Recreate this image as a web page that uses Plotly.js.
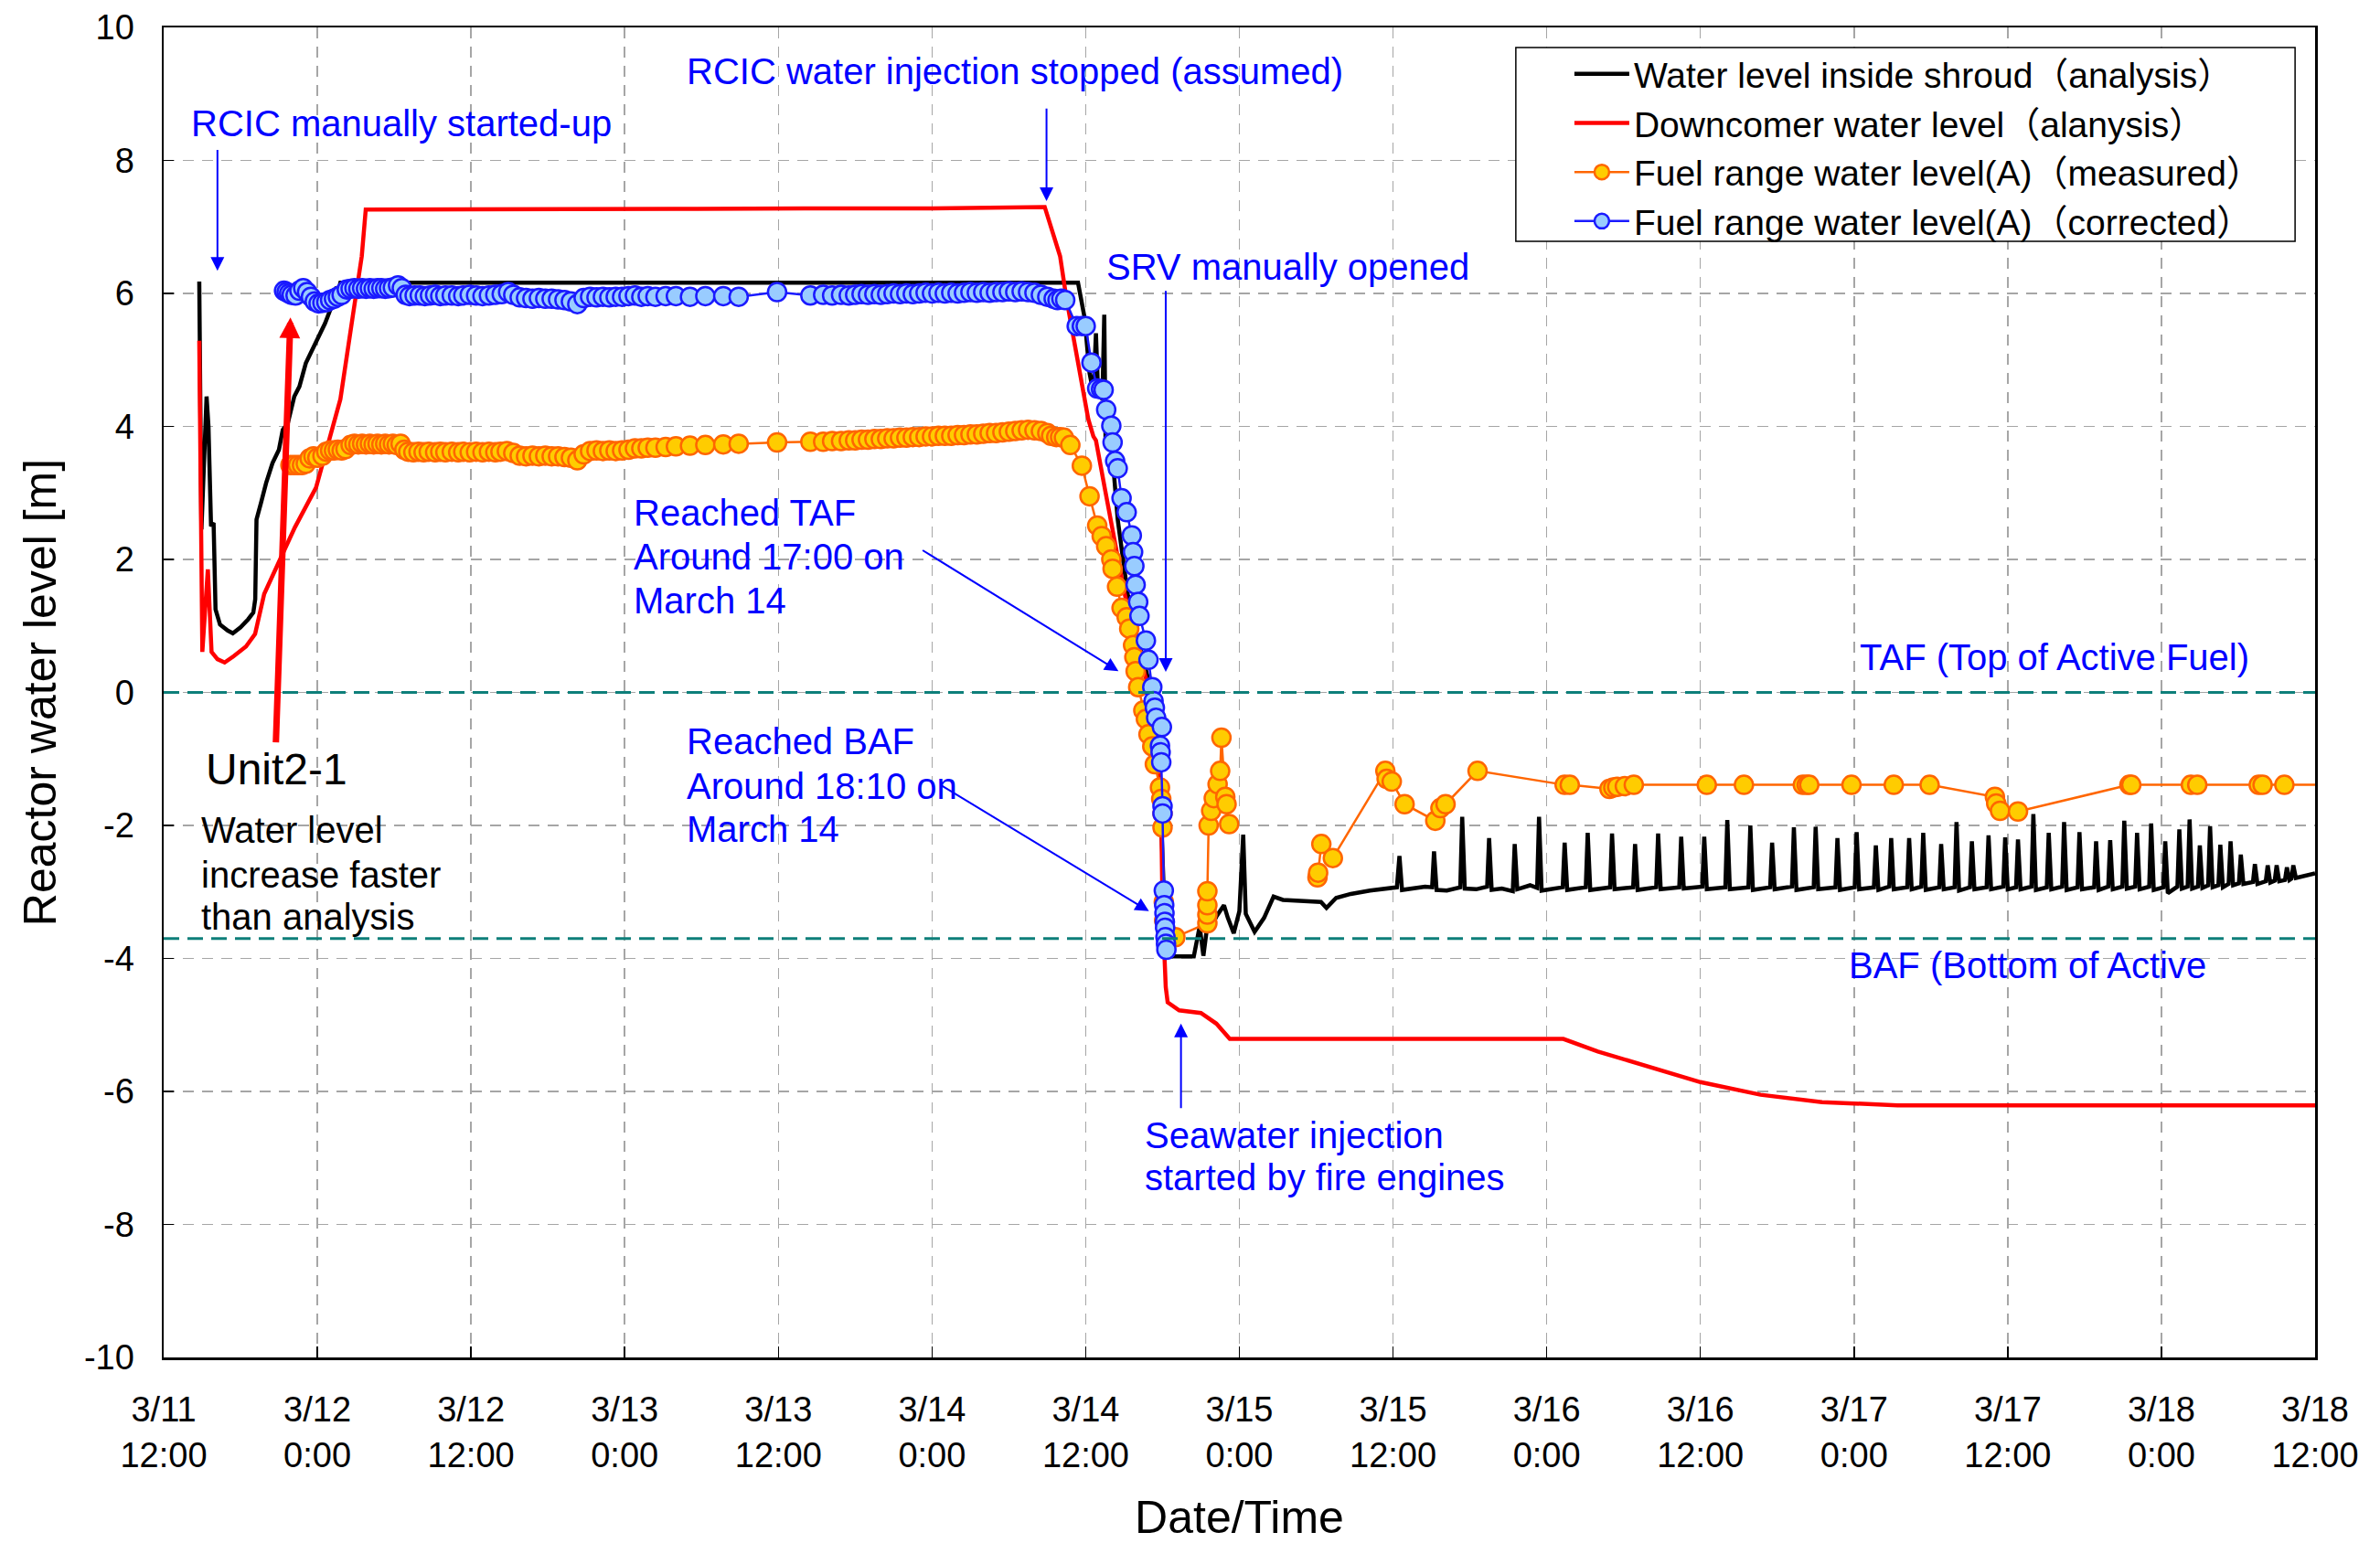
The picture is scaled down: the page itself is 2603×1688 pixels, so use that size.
<!DOCTYPE html>
<html>
<head>
<meta charset="utf-8">
<script src="https://cdn.plot.ly/plotly-3.0.1.min.js"></script>
<style>html,body{margin:0;padding:0;background:#fff;}#chart{width:2603px;height:1688px;}</style>
</head>
<body>
<div id="chart"></div>
<script>
// ---- Data (x = hours after 3/11 12:00) ----
const tickHours = [0,12,24,36,48,60,72,84,96,108,120,132,144,156,168];
const tickLabels = ['3/11<br>12:00','3/12<br>0:00','3/12<br>12:00','3/13<br>0:00','3/13<br>12:00','3/14<br>0:00','3/14<br>12:00','3/15<br>0:00','3/15<br>12:00','3/16<br>0:00','3/16<br>12:00','3/17<br>0:00','3/17<br>12:00','3/18<br>0:00','3/18<br>12:00'];
const yTicks = [-10,-8,-6,-4,-2,0,2,4,6,8,10];
const yTickLabels = ['-10','-8','-6','-4','-2','0','2','4','6','8','10'];
const refLevels = [0, -3.7];

const seriesNames = ['Water level inside shroud（analysis）','Downcomer water level（alanysis）','Fuel range water level(A)（measured）','Fuel range water level(A)（corrected）'];

// Water level inside shroud (analysis)
const shroudT = [2.78,2.95,3.1,3.35,3.5,3.7,3.9,4.05,4.4,5.0,5.4,6.0,6.6,7.0,7.15,7.25,7.6,8.0,8.5,9.0,9.3,9.7,10.2,10.6,11.1,11.6,12.1,12.6,13.1,13.5,13.6,13.8,71.4,71.9,72.3,72.6,72.8,72.95,73.3,73.45,73.55,73.8,74.1,74.2,74.5,74.9,75.3,75.9,76.5,77.0,77.4,77.7,77.9,78.1,78.2,80.44,80.9,81.19,81.5,81.93,82.2,82.8,83.1,83.56,84.0,84.3,84.5,85.19,85.93,86.67,87.4,89.0,90.37,90.8,91.56,92.7,94.2,96.3,96.5,96.7,97.5,98.5,99.05,99.2,99.4,100.2,101.25,101.4,101.6,102.5,103.35,103.5,103.7,104.5,105.35,105.5,105.7,106.7,107.25,107.4,107.6,108.5,109.25,109.4,109.6,111.05,111.2,111.4,112.95,113.1,113.3,114.75,114.9,115.1,116.55,116.7,116.9,118.35,118.5,118.7,120.15,120.3,120.5,121.95,122.1,122.3,123.75,123.9,124.1,125.45,125.6,125.8,127.15,127.3,127.5,128.85,129.0,129.2,130.55,130.7,130.9,132.05,132.2,132.4,133.55,133.7,133.9,134.75,134.9,135.1,136.15,136.3,136.5,137.25,137.4,137.6,138.65,138.8,139.0,139.85,140.0,140.2,141.05,141.2,141.4,142.35,142.5,142.7,143.65,143.8,144.0,144.65,144.8,145.0,145.85,146.0,146.2,147.05,147.2,147.4,148.25,148.4,148.6,149.45,149.6,149.8,150.75,150.9,151.1,151.85,152.0,152.2,152.95,153.1,153.3,153.95,154.1,154.3,155.05,155.2,155.4,156.15,156.3,156.5,157.25,157.4,157.6,158.05,158.2,158.4,158.85,159.0,159.2,159.65,159.8,160.0,160.45,160.6,160.8,161.25,161.4,161.6,162.05,162.2,162.4,163.15,163.3,163.5,164.15,164.3,164.5,164.85,165.0,165.2,165.65,165.8,166.0,166.15,166.3,166.5,167.3,168.0];
const shroudV = [6.18,2.45,3.2,4.45,4.0,2.5,2.55,1.25,1.02,0.93,0.89,0.98,1.1,1.2,1.4,2.6,2.85,3.15,3.45,3.65,3.95,4.05,4.45,4.6,4.95,5.15,5.35,5.55,5.8,6.1,6.0,6.16,6.16,5.65,4.8,4.5,5.4,4.6,4.4,5.68,3.8,4.2,4.0,3.3,2.6,2.0,1.45,0.9,0.5,0.1,-0.4,-0.9,-1.85,-3.0,-3.97,-3.97,-3.52,-3.96,-3.5,-3.48,-3.37,-3.2,-3.39,-3.62,-3.29,-2.14,-3.33,-3.6,-3.39,-3.07,-3.12,-3.13,-3.15,-3.24,-3.09,-3.03,-2.98,-2.93,-2.46,-2.97,-2.95,-2.92,-2.93,-2.39,-2.97,-2.98,-2.93,-1.87,-2.95,-2.96,-2.92,-2.19,-2.97,-2.95,-2.99,-2.28,-2.96,-2.9,-2.94,-1.87,-2.98,-2.95,-2.93,-2.26,-2.97,-2.93,-2.11,-2.97,-2.93,-2.12,-2.96,-2.93,-2.28,-2.97,-2.93,-2.12,-2.96,-2.93,-2.17,-2.95,-2.92,-2.17,-2.96,-2.93,-1.92,-2.96,-2.93,-2.0,-2.97,-2.93,-2.26,-2.96,-2.92,-2.03,-2.97,-2.93,-2.02,-2.96,-2.93,-2.19,-2.97,-2.93,-2.1,-2.96,-2.93,-2.3,-2.97,-2.92,-2.19,-2.96,-2.93,-2.19,-2.96,-2.92,-2.11,-2.97,-2.93,-2.28,-2.96,-2.93,-1.95,-2.98,-2.93,-2.24,-2.96,-2.93,-2.15,-2.96,-2.92,-2.18,-2.96,-2.93,-2.21,-2.96,-2.92,-1.83,-2.97,-2.93,-2.11,-2.96,-2.92,-1.95,-2.97,-2.93,-2.1,-2.96,-2.93,-2.24,-2.97,-2.92,-2.22,-2.96,-2.92,-1.93,-2.95,-2.92,-2.11,-2.96,-2.92,-1.97,-2.97,-2.93,-2.24,-3.02,-2.92,-2.06,-2.95,-2.92,-1.91,-2.95,-2.92,-2.3,-2.94,-2.9,-2.01,-2.93,-2.9,-2.29,-2.93,-2.88,-2.24,-2.9,-2.87,-2.44,-2.88,-2.85,-2.58,-2.88,-2.84,-2.6,-2.86,-2.83,-2.6,-2.84,-2.82,-2.63,-2.82,-2.8,-2.6,-2.79,-2.75,-2.72];

// Downcomer water level (analysis)
const downT = [2.78,3.02,3.45,3.74,4.2,4.76,5.5,6.43,7.14,7.5,7.85,9.04,10.24,11.9,12.85,13.8,14.76,15.47,15.78,30,40,50,60,68.8,69.33,70.0,70.5,71.7,72.2,72.6,72.8,73.5,75.0,76.2,77.2,77.7,77.9,78.0,78.25,78.4,79.3,81.0,82.2,83.25,109.3,112.0,115.3,120.0,124.7,129.5,135.4,168];
const downV = [5.29,0.61,1.85,0.61,0.5,0.45,0.55,0.69,0.88,1.2,1.48,1.98,2.48,3.08,3.72,4.41,5.65,6.56,7.26,7.26,7.27,7.28,7.28,7.3,6.98,6.56,5.92,4.67,4.11,3.85,3.79,3.06,1.52,0.53,-0.1,-0.8,-1.85,-3.25,-4.43,-4.66,-4.78,-4.82,-4.98,-5.21,-5.21,-5.4,-5.59,-5.86,-6.05,-6.16,-6.21,-6.21];

// Fuel range water level (A) measured
const measT = [9.9,10.2,10.5,10.8,11.1,11.4,11.7,12.0,12.4,12.7,13.0,13.3,13.6,13.9,14.2,14.6,14.9,15.2,15.5,15.8,16.1,16.4,16.7,17.0,17.3,17.6,17.9,18.2,18.5,18.8,19.1,19.5,19.9,20.3,20.7,21.2,21.6,22.0,22.5,23.0,23.4,23.9,24.4,24.9,25.4,25.9,26.3,26.8,27.3,27.8,28.3,28.8,29.3,29.8,30.3,30.8,31.3,31.8,32.3,32.8,33.3,33.8,34.3,34.8,35.3,35.8,36.3,36.8,37.3,37.8,38.4,39.2,40.0,41.1,42.3,43.7,44.9,47.9,50.5,51.5,52.2,52.9,53.5,54.0,54.5,55.0,55.5,56.0,56.5,57.0,57.5,58.0,58.5,59.0,59.5,60.0,60.5,61.0,61.5,62.0,62.5,63.0,63.5,64.0,64.5,65.0,65.5,66.0,66.5,67.0,67.5,68.0,68.5,69.0,69.3,69.7,70.0,70.3,70.8,71.7,72.3,72.9,73.25,73.6,74.0,74.1,74.45,74.8,75.2,75.4,75.7,75.8,75.9,76.1,76.5,76.7,76.9,77.2,77.4,77.8,77.9,78.0,78.0,78.1,78.13,78.3,79.0,81.5,81.5,81.5,81.5,81.6,81.8,82.0,82.3,82.5,82.6,82.9,83.0,83.2,null,90.1,90.15,90.4,91.3,95.4,95.5,95.9,96.9,99.3,99.7,100.1,102.6,109.4,109.8,112.9,113.2,113.5,114.1,114.8,120.5,123.4,128.0,128.3,128.5,131.8,135.1,137.9,143.0,143.1,143.4,144.8,153.5,153.65,158.3,158.8,163.6,163.9,165.6,169.5];
const measV = [3.42,3.42,3.42,3.42,3.44,3.52,3.55,3.53,3.56,3.62,3.64,3.64,3.65,3.64,3.66,3.72,3.74,3.73,3.74,3.73,3.74,3.73,3.74,3.73,3.74,3.73,3.74,3.72,3.74,3.65,3.62,3.61,3.62,3.61,3.62,3.61,3.62,3.61,3.62,3.61,3.62,3.61,3.62,3.61,3.62,3.61,3.62,3.63,3.60,3.56,3.55,3.56,3.55,3.56,3.55,3.55,3.54,3.53,3.49,3.58,3.63,3.64,3.63,3.64,3.63,3.64,3.65,3.67,3.67,3.68,3.68,3.69,3.70,3.71,3.72,3.73,3.74,3.76,3.77,3.77,3.78,3.78,3.79,3.79,3.80,3.80,3.81,3.81,3.82,3.82,3.83,3.83,3.84,3.84,3.85,3.85,3.86,3.86,3.86,3.87,3.87,3.88,3.88,3.89,3.90,3.90,3.91,3.92,3.93,3.94,3.95,3.94,3.93,3.90,3.86,3.84,3.84,3.83,3.72,3.41,2.95,2.51,2.35,2.2,2.0,1.86,1.59,1.27,1.13,0.96,0.71,0.53,0.32,0.08,-0.27,-0.4,-0.63,-0.81,-1.08,-1.43,-1.6,-1.82,-2.03,-3.15,-3.43,-3.6,-3.68,-3.47,-3.34,-3.2,-2.99,-2.0,-1.78,-1.59,-1.38,-1.18,-0.68,-1.57,-1.68,-1.98,null,-2.78,-2.71,-2.28,-2.49,-1.18,-1.3,-1.34,-1.68,-1.93,-1.74,-1.68,-1.18,-1.39,-1.39,-1.45,-1.43,-1.42,-1.41,-1.39,-1.39,-1.39,-1.39,-1.39,-1.39,-1.39,-1.39,-1.39,-1.57,-1.67,-1.78,-1.79,-1.39,-1.39,-1.39,-1.39,-1.39,-1.39,-1.39,-1.39];

// Fuel range water level (A) corrected
const corrT = [9.4,9.6,9.8,10.0,10.3,10.6,10.9,11.2,11.5,11.8,12.1,12.4,12.7,13.0,13.3,13.6,13.9,14.3,14.6,14.9,15.2,15.5,15.8,16.1,16.4,16.7,17.0,17.3,17.6,17.9,18.3,18.6,18.9,19.2,19.6,20.0,20.4,20.8,21.2,21.6,22.0,22.5,23.0,23.4,23.9,24.4,24.9,25.4,25.9,26.4,26.9,27.3,27.8,28.3,28.8,29.3,29.8,30.3,30.8,31.3,31.8,32.3,32.8,33.3,33.8,34.3,34.8,35.3,35.8,36.3,36.8,37.3,37.8,38.4,39.2,40.0,41.1,42.3,43.7,44.9,47.9,50.5,51.5,52.2,52.9,53.5,54.0,54.5,55.0,55.5,56.0,56.5,57.0,57.5,58.0,58.5,59.0,59.5,60.0,60.5,61.0,61.5,62.0,62.5,63.0,63.5,64.0,64.5,65.0,65.5,66.0,66.5,67.0,67.5,68.0,68.5,69.0,69.5,69.8,70.1,70.4,71.3,71.7,72.0,72.45,72.9,73.2,73.4,73.6,74.0,74.1,74.3,74.5,74.8,75.2,75.6,75.7,75.8,75.9,76.1,76.2,76.7,76.9,77.2,77.3,77.4,77.5,77.95,77.8,77.85,77.9,78.0,78.0,78.1,78.13,78.15,78.18,78.2,78.23,78.27,78.3];
const corrV = [6.04,6.02,6.0,5.98,5.97,6.04,6.08,6.02,5.95,5.88,5.85,5.86,5.87,5.9,5.92,5.95,5.98,6.06,6.07,6.08,6.07,6.08,6.07,6.08,6.07,6.08,6.08,6.07,6.08,6.09,6.12,6.08,5.98,5.96,5.97,5.97,5.96,5.97,5.98,5.96,5.97,5.97,5.96,5.97,5.98,5.97,5.96,5.97,5.98,5.99,6.02,5.98,5.94,5.93,5.92,5.93,5.92,5.92,5.91,5.9,5.88,5.84,5.93,5.95,5.94,5.95,5.94,5.95,5.95,5.96,5.97,5.95,5.96,5.95,5.96,5.96,5.95,5.96,5.96,5.95,6.02,5.97,5.98,5.97,5.98,5.97,5.98,5.99,5.98,5.99,5.98,5.99,6.0,5.99,6.0,5.99,6.0,6.01,6.0,6.01,6.0,6.01,6.0,6.01,6.02,6.01,6.02,6.01,6.02,6.02,6.03,6.02,6.03,6.02,6.01,5.98,5.95,5.92,5.9,5.92,5.9,5.51,5.51,5.51,4.96,4.57,4.56,4.55,4.25,4.01,3.76,3.48,3.37,2.92,2.71,2.36,2.11,1.9,1.62,1.36,1.15,0.78,0.49,0.08,-0.13,-0.23,-0.38,-0.52,-0.8,-0.9,-1.05,-1.71,-1.82,-2.98,-3.2,-3.32,-3.45,-3.54,-3.68,-3.78,-3.87];

// ---- Annotation texts ----
const blueTexts = [
  {t:'RCIC manually started-up', x:2.03, y:8.56},
  {t:'RCIC water injection stopped (assumed)', x:40.67, y:9.34},
  {t:'SRV manually opened', x:73.5, y:6.4},
  {t:'Reached TAF', x:36.52, y:2.70},
  {t:'Around 17:00 on', x:36.52, y:2.04},
  {t:'March 14', x:36.52, y:1.38},
  {t:'Reached BAF', x:40.67, y:-0.74},
  {t:'Around 18:10 on', x:40.67, y:-1.41},
  {t:'March 14', x:40.67, y:-2.05},
  {t:'Seawater injection', x:76.47, y:-6.66},
  {t:'started by fire engines', x:76.47, y:-7.29},
  {t:'TAF (Top of Active Fuel)', x:132.3, y:0.53},
  {t:'BAF (Bottom of Active', x:131.45, y:-4.10}
];
const blackTexts = [
  {t:'Unit2-1', x:3.14, y:-1.16, s:48},
  {t:'Water level', x:2.81, y:-2.07, s:40},
  {t:'increase faster', x:2.81, y:-2.74, s:40},
  {t:'than analysis', x:2.81, y:-3.37, s:40}
];
// arrows: tail (ax, ay) -> head (x, y)
const blueArrows = [
  {ax:4.2, ay:8.18, x:4.2, y:6.34},
  {ax:68.94, ay:8.8, x:68.94, y:7.39},
  {ax:78.25, ay:6.06, x:78.25, y:0.31},
  {ax:59.16, ay:2.15, x:74.56, y:0.32},
  {ax:60.58, ay:-1.38, x:76.94, y:-3.29},
  {ax:79.44, ay:-6.27, x:79.44, y:-4.98}
];
const redArrow = {ax:8.76, ay:-0.77, x:9.9, y:5.64};

const FONT = 'Liberation Sans, Arial, Noto Sans CJK JP, sans-serif';

const traces = [
  {x: shroudT, y: shroudV, name: seriesNames[0], mode: 'lines', line: {color: '#000000', width: 4.5}},
  {x: downT, y: downV, name: seriesNames[1], mode: 'lines', line: {color: '#FF0000', width: 4.5}},
  {x: measT, y: measV, name: seriesNames[2], mode: 'lines+markers',
   line: {color: '#FF6600', width: 2.5},
   marker: {symbol: 'circle', size: 20, color: '#FFCC00', line: {color: '#FF6600', width: 2.5}}},
  {x: corrT, y: corrV, name: seriesNames[3], mode: 'lines+markers',
   line: {color: '#1A1AFF', width: 2.5},
   marker: {symbol: 'circle', size: 20, color: '#99CCFF', line: {color: '#1A1AFF', width: 2.5}}}
];

const annotations = [];
blueTexts.forEach(a => annotations.push({x:a.x, y:a.y, xref:'x', yref:'y', text:a.t, showarrow:false, xanchor:'left', yanchor:'middle', font:{family:FONT, size:40, color:'#0000FF'}}));
blackTexts.forEach(a => annotations.push({x:a.x, y:a.y, xref:'x', yref:'y', text:a.t, showarrow:false, xanchor:'left', yanchor:'middle', font:{family:FONT, size:a.s, color:'#000000'}}));
blueArrows.forEach(a => annotations.push({x:a.x, y:a.y, ax:a.ax, ay:a.ay, xref:'x', yref:'y', axref:'x', ayref:'y', text:'', showarrow:true, arrowhead:2, arrowsize:1.5, arrowwidth:2, arrowcolor:'#0000FF', standoff:0, startstandoff:0}));
annotations.push({x:redArrow.x, y:redArrow.y, ax:redArrow.ax, ay:redArrow.ay, xref:'x', yref:'y', axref:'x', ayref:'y', text:'', showarrow:true, arrowhead:2, arrowsize:0.65, arrowwidth:7, arrowcolor:'#FF0000', standoff:0, startstandoff:0});

const shapes = refLevels.map(v => ({type:'line', xref:'paper', x0:0, x1:1, yref:'y', y0:v, y1:v, line:{color:'#0E7F7A', width:3, dash:'17px,9px'}, layer:'above'}));
// legend frame
shapes.push({type:'rect', xref:'paper', yref:'paper', x0:0.6285, x1:0.9907, y0:0.8392, y1:0.9849, fillcolor:'#FFFFFF', line:{color:'#000000', width:1.5}, layer:'above'});

const layout = {
  width: 2603, height: 1688,
  margin: {l:179, r:71, t:30, b:203},
  paper_bgcolor: '#FFFFFF', plot_bgcolor: '#FFFFFF',
  font: {family: FONT, size: 38, color: '#000000'},
  showlegend: true,
  legend: {x:0.6536, y:0.987, xanchor:'left', yanchor:'top', bgcolor:'rgba(0,0,0,0)', borderwidth:0,
           font:{family:FONT, size:39, color:'#000000'}, tracegroupgap:0, itemwidth:60},
  xaxis: {
    range: [0, 168], tickmode: 'array', tickvals: tickHours, ticktext: tickLabels,
    showline: true, linecolor: '#000000', linewidth: 2.5, mirror: true,
    ticks: 'inside', ticklen: 12, tickwidth: 1.5, tickcolor: '#000000',
    showgrid: true, gridcolor: '#A6A6A6', gridwidth: 1.5, griddash: '12px,9px',
    zeroline: false, ticklabelstandoff: 22,
    tickfont: {family: FONT, size: 38, color: '#000000'},
    title: {text: 'Date/Time', font: {family: FONT, size: 50, color: '#000000'}, standoff: 32}
  },
  yaxis: {
    range: [-10, 10], tickmode: 'array', tickvals: yTicks, ticktext: yTickLabels,
    showline: true, linecolor: '#000000', linewidth: 2.5, mirror: true,
    ticks: 'inside', ticklen: 11, tickwidth: 1.5, tickcolor: '#000000',
    showgrid: true, gridcolor: '#A6A6A6', gridwidth: 1.5, griddash: '12px,9px',
    zeroline: false, ticklabelstandoff: 22,
    tickfont: {family: FONT, size: 38, color: '#000000'},
    title: {text: 'Reactor water level [m]', font: {family: FONT, size: 50, color: '#000000'}, standoff: 15}
  },
  annotations: annotations,
  shapes: shapes
};

Plotly.newPlot('chart', traces, layout, {displayModeBar: false, staticPlot: true});
</script>
</body>
</html>
